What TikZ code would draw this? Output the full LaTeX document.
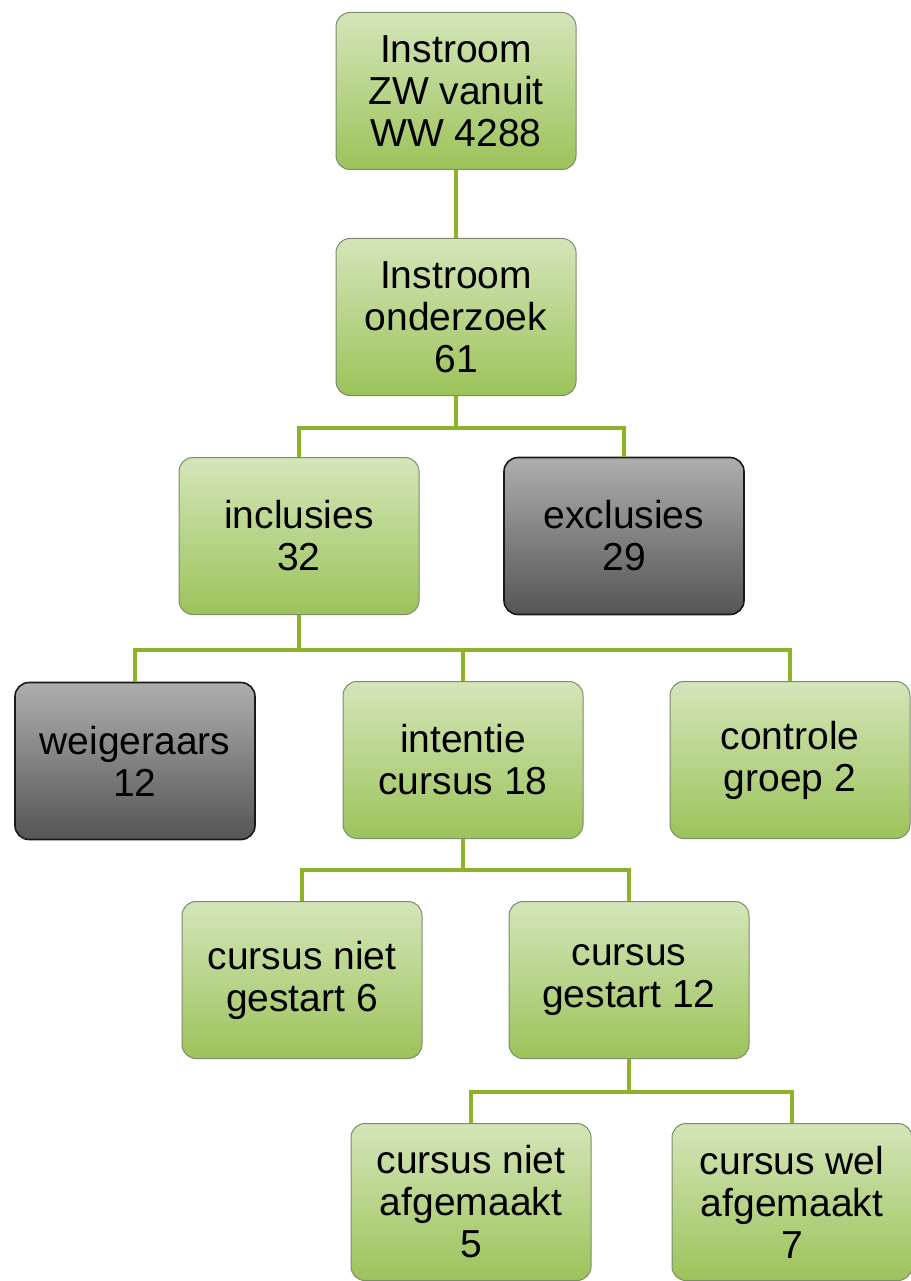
\documentclass[tikz,border=0pt]{standalone}
\usepackage{fontspec}
\setmainfont{Liberation Sans}
\begin{document}
\begin{tikzpicture}[x=1pt,y=-1pt,
  box/.style={rectangle, rounded corners=14pt, minimum width=240pt, minimum height=157pt,
    align=center, inner sep=0pt, font=\fontsize{39}{42}\selectfont, text=black},
  gbox/.style={box, draw=boxedge, line width=1pt, top color=gtop, bottom color=gbot},
  dbox/.style={box, draw=black!90, line width=1.6pt, top color=dtop, bottom color=dbot},
  link/.style={draw=linkgreen, line width=3.5pt}]
\definecolor{gtop}{HTML}{D4E5B9}
\definecolor{gbot}{HTML}{9CC35A}
\definecolor{boxedge}{HTML}{7C8C6C}
\definecolor{dtop}{HTML}{AEAEAE}
\definecolor{dbot}{HTML}{555555}
\definecolor{linkgreen}{HTML}{8DB32B}
\useasboundingbox (0,0) rectangle (910,1281);
\node[gbox] (n1) at (456,91) {Instroom\\ZW vanuit\\WW 4288};
\node[gbox] (n2) at (456,317) {Instroom\\onderzoek\\61};
\node[gbox] (n3) at (299,536) {inclusies\\32};
\node[dbox] (n4) at (624,536) {exclusies\\29};
\node[dbox] (n5) at (135,761) {weigeraars\\12};
\node[gbox] (n6) at (463,760) {intentie\\cursus 18};
\node[gbox] (n7) at (790,760) {controle\\groep 2};
\node[gbox] (n8) at (302,980) {cursus niet\\gestart 6};
\node[gbox] (n9) at (629,980) {cursus\\gestart 12};
\node[gbox] (n10) at (471,1202) {cursus niet\\afgemaakt\\5};
\node[gbox] (n11) at (792,1202) {cursus wel\\afgemaakt\\7};
\coordinate (j1) at (456,428);
\coordinate (j2) at (299,650);
\coordinate (j3) at (463,870);
\coordinate (j4) at (629,1092);
\draw[link] (n1.south) -- (n2.north);
\draw[link] (n2.south) -- (j1) -| (n3.north);
\draw[link] (j1) -| (n4.north);
\draw[link] (n3.south) -- (j2) -| (n5.north);
\draw[link] (j2) -| (n7.north);
\draw[link] (j2 -| n6.north) -- (n6.north);
\draw[link] (n6.south) -- (j3) -| (n8.north);
\draw[link] (j3) -| (n9.north);
\draw[link] (n9.south) -- (j4) -| (n10.north);
\draw[link] (j4) -| (n11.north);
\end{tikzpicture}
\end{document}
